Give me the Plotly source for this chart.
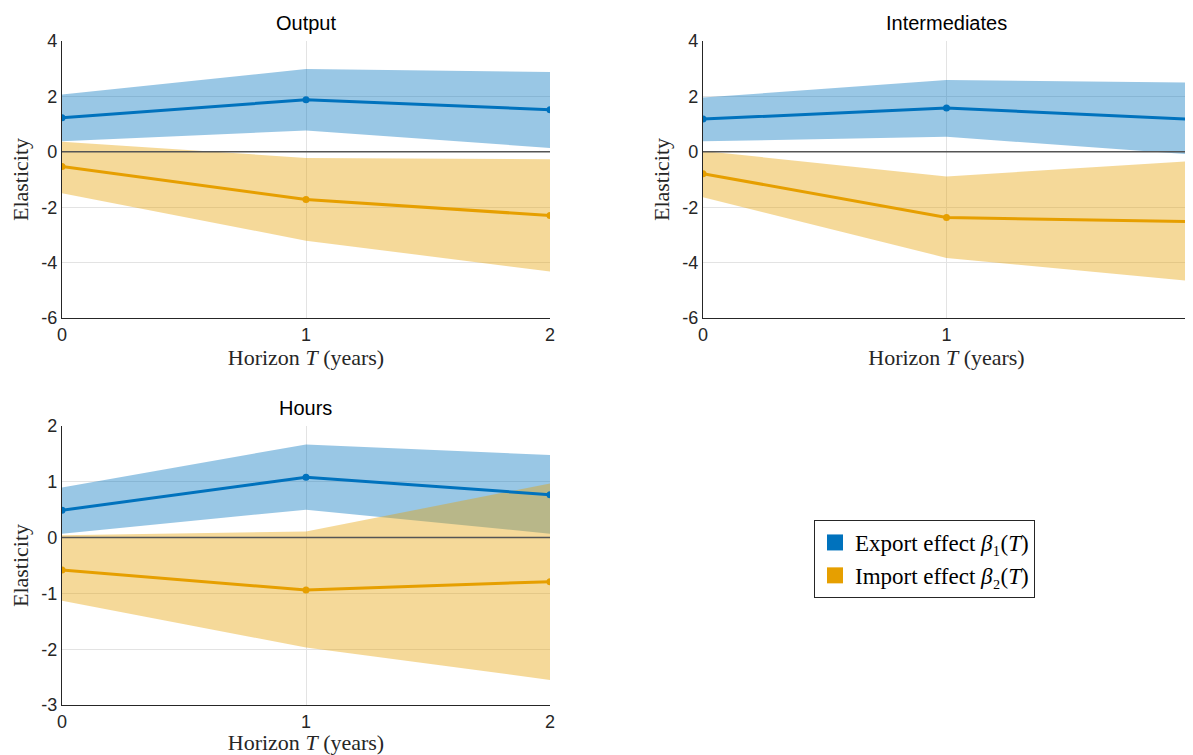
import plotly.graph_objects as go

horizon = [0, 1, 2]
panel_titles = ["Output", "Intermediates", "Hours"]

# Output
out_exp_mean = [1.23, 1.88, 1.52]
out_exp_lo = [0.38, 0.77, 0.14]
out_exp_hi = [2.07, 2.99, 2.88]
out_imp_mean = [-0.53, -1.72, -2.30]
out_imp_lo = [-1.50, -3.21, -4.32]
out_imp_hi = [0.36, -0.22, -0.27]

# Intermediates
int_exp_mean = [1.18, 1.58, 1.18]
int_exp_lo = [0.38, 0.54, -0.09]
int_exp_hi = [1.96, 2.59, 2.50]
int_imp_mean = [-0.79, -2.37, -2.52]
int_imp_lo = [-1.64, -3.83, -4.66]
int_imp_hi = [0.03, -0.89, -0.34]

# Hours
hrs_exp_mean = [0.49, 1.08, 0.77]
hrs_exp_lo = [0.07, 0.50, 0.07]
hrs_exp_hi = [0.90, 1.67, 1.48]
hrs_imp_mean = [-0.58, -0.94, -0.79]
hrs_imp_lo = [-1.13, -1.97, -2.55]
hrs_imp_hi = [0.04, 0.11, 0.97]

y_ranges = [[-6, 4], [-6, 4], [-3, 2]]
y_tickvals = [[-6, -4, -2, 0, 2, 4], [-6, -4, -2, 0, 2, 4], [-3, -2, -1, 0, 1, 2]]
x_ticklabels = ["0", "1", "2"]
legend_names = ["Export effect <i>β</i>₁(<i>T</i>)", "Import effect <i>β</i>₂(<i>T</i>)"]

BLUE = "#0072BD"
ORANGE = "#E69F00"
BLUE_FILL = "rgba(0,114,189,0.4)"
ORANGE_FILL = "rgba(230,159,0,0.4)"

OX, OY = 8, 8  # page body margin offset
W, H = 1193 - OX, 755 - OY

def px_x(a, b):
    return [(a - OX) / W, min(1.0, (b - OX) / W)]

def px_y(top, bottom):
    return [max(0.0, 1 - (bottom - OY) / H), 1 - (top - OY) / H]

domains = [
    (px_x(62, 550), px_y(41, 318)),
    (px_x(703, 1190), px_y(41, 318)),
    (px_x(62, 550), px_y(426, 705)),
]

panels = [
    (out_exp_mean, out_exp_lo, out_exp_hi, out_imp_mean, out_imp_lo, out_imp_hi),
    (int_exp_mean, int_exp_lo, int_exp_hi, int_imp_mean, int_imp_lo, int_imp_hi),
    (hrs_exp_mean, hrs_exp_lo, hrs_exp_hi, hrs_imp_mean, hrs_imp_lo, hrs_imp_hi),
]

SANS = "Liberation Sans, Arial, sans-serif"
SERIF = "Liberation Serif, Times New Roman, serif"

fig = go.Figure()
layout = {}
annotations = []
for i, (em, el, eh, im, il, ih) in enumerate(panels):
    sfx = "" if i == 0 else str(i + 1)
    xa, ya = "x" + sfx, "y" + sfx
    # export band
    fig.add_trace(go.Scatter(x=horizon, y=eh, xaxis=xa, yaxis=ya, mode="lines",
                             line=dict(width=0), hoverinfo="skip", showlegend=False))
    fig.add_trace(go.Scatter(x=horizon, y=el, xaxis=xa, yaxis=ya, mode="lines",
                             line=dict(width=0), fill="tonexty", fillcolor=BLUE_FILL,
                             hoverinfo="skip", showlegend=False))
    # import band
    fig.add_trace(go.Scatter(x=horizon, y=ih, xaxis=xa, yaxis=ya, mode="lines",
                             line=dict(width=0), hoverinfo="skip", showlegend=False))
    fig.add_trace(go.Scatter(x=horizon, y=il, xaxis=xa, yaxis=ya, mode="lines",
                             line=dict(width=0), fill="tonexty", fillcolor=ORANGE_FILL,
                             hoverinfo="skip", showlegend=False))
    # zero line
    fig.add_trace(go.Scatter(x=[horizon[0], horizon[-1]], y=[0, 0], xaxis=xa, yaxis=ya,
                             mode="lines", line=dict(color="#555555", width=1.5),
                             hoverinfo="skip", showlegend=False))
    # means
    fig.add_trace(go.Scatter(x=horizon, y=em, xaxis=xa, yaxis=ya, mode="lines+markers",
                             line=dict(color=BLUE, width=3), marker=dict(size=7, color=BLUE),
                             showlegend=False, name="Export"))
    fig.add_trace(go.Scatter(x=horizon, y=im, xaxis=xa, yaxis=ya, mode="lines+markers",
                             line=dict(color=ORANGE, width=3), marker=dict(size=7, color=ORANGE),
                             showlegend=False, name="Import"))

    xd, yd = domains[i]
    axis_common = dict(showgrid=True, gridcolor="#E3E3E3", gridwidth=1,
                       showline=True, linecolor="#262626", linewidth=1.2,
                       zeroline=False, ticks="", mirror=False, automargin=False,
                       ticklabeloverflow="allow",
                       tickfont=dict(family=SANS, size=18, color="#262626"))
    layout["xaxis" + sfx] = dict(domain=xd, anchor=ya, range=[0, 2], tickvals=horizon,
                                 ticktext=x_ticklabels,
                                 title=dict(text="Horizon <i>T</i> (years)", standoff=2,
                                            font=dict(family=SERIF, size=22, color="#262626")),
                                 **axis_common)
    layout["yaxis" + sfx] = dict(domain=yd, anchor=xa, range=y_ranges[i],
                                 tickvals=y_tickvals[i],
                                 ticktext=[str(v) for v in y_tickvals[i]],
                                 title=dict(text="Elasticity", standoff=6,
                                            font=dict(family=SERIF, size=22, color="#262626")),
                                 **axis_common)
    annotations.append(dict(text=panel_titles[i], xref="paper", yref="paper",
                            x=(xd[0] + xd[1]) / 2, y=yd[1], yshift=5,
                            xanchor="center", yanchor="bottom", showarrow=False,
                            font=dict(family=SANS, size=20, color="#000000")))

# legend entries
fig.add_trace(go.Scatter(x=[None], y=[None], mode="markers",
                         marker=dict(symbol="square", size=26, color=BLUE),
                         name=legend_names[0]))
fig.add_trace(go.Scatter(x=[None], y=[None], mode="markers",
                         marker=dict(symbol="square", size=26, color=ORANGE),
                         name=legend_names[1]))

fig.update_layout(
    width=W, height=H,
    margin=dict(l=0, r=0, t=0, b=0, autoexpand=False),
    plot_bgcolor="white", paper_bgcolor="white",
    annotations=annotations,
    showlegend=True,
    legend=dict(x=(814 - OX) / W, y=1 - (520 - OY) / H, xanchor="left", yanchor="top",
                bordercolor="#262626", borderwidth=1, bgcolor="white",
                itemsizing="trace", traceorder="normal", tracegroupgap=0,
                font=dict(family=SERIF, size=23, color="#000000")),
    **layout,
)

fig.write_html("out.html")
